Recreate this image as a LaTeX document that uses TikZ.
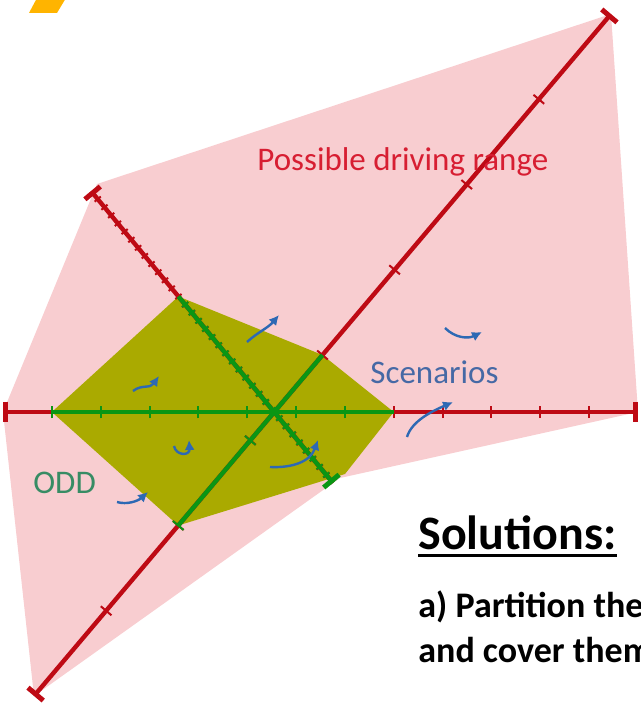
\documentclass[tikz,border=0pt]{standalone}
\usepackage{fontspec}
\setmainfont{Carlito}
\usetikzlibrary{arrows.meta,calc,decorations.markings}
\definecolor{rangepink}{RGB}{248,205,208}
\definecolor{oddfill}{RGB}{170,170,0}
\definecolor{axisred}{RGB}{190,10,20}
\definecolor{oddgreen}{RGB}{10,150,20}
\definecolor{labelred}{RGB}{215,30,50}
\definecolor{scenblue}{RGB}{70,105,165}
\definecolor{oddtext}{RGB}{55,140,100}
\definecolor{arrowblue}{RGB}{45,105,180}
\definecolor{logoorange}{RGB}{255,180,0}
\begin{document}
\begin{tikzpicture}[
  x=0.5pt, y=-0.5pt,
  axis/.style={draw=axisred, line width=2.2pt},
  oddaxis/.style={draw=oddgreen, line width=2.2pt},
  ticks/.style n args={5}{postaction={decorate, decoration={markings,
    mark=between positions #1 and #2 step #3 with {\draw[-, #5, line width=1pt] (0,-#4) -- (0,#4);}}}},
  bars/.style={{Bar[width=10pt,line width=2.5pt]}-{Bar[width=10pt,line width=2.5pt]}},
  barstart/.style={{Bar[width=10pt,line width=2.5pt]}-},
  barend/.style={-{Bar[width=10pt,line width=2.5pt]}},
  label/.style={anchor=base west, inner sep=0pt, font=\fontsize{16.5}{20}\selectfont},
  solution/.style={anchor=base west, inner sep=0pt, font=\bfseries\fontsize{18}{22}\selectfont},
  scen/.style={draw=arrowblue, line width=1.2pt, -{Latex[length=5pt,width=5pt]}}
]
\useasboundingbox (0,0) rectangle (641,706);
\clip (0,0) rectangle (641,706);
% axis end points
\coordinate (h0) at (3,412);
\coordinate (h1) at (638,412);
\coordinate (d0) at (34,696);
\coordinate (d1) at (611,14);
\coordinate (a0) at (91,191);
\coordinate (a1) at (333,483);
\coordinate (hl) at ($(h0)!1/13!(h1)$);
\coordinate (hr) at ($(h0)!8/13!(h1)$);
\coordinate (dl) at ($(d0)!2/8!(d1)$);
\coordinate (du) at ($(d0)!4/8!(d1)$);
\coordinate (ag) at ($(a0)!13/36!(a1)$);
\coordinate (odd low) at (345,474);
% logo corner
\fill[logoorange] (37,-2) -- (66,-2) -- (57,13) -- (29,13) -- cycle;
% driving range and ODD
\fill[rangepink] (97,184) -- (d1) -- (h1) -- (340,478) -- (d0) -- (h0) -- cycle;
\fill[oddfill] (ag) -- (du) -- (hr) -- (odd low) -- (dl) -- (hl) -- cycle;
% axes
\draw[axis, bars, ticks={0.0769}{0.95}{0.0769}{3pt}{axisred}] (h0) -- (h1);
\draw[axis, bars, ticks={0.125}{0.9}{0.125}{3.5pt}{axisred}] (d0) -- (d1);
\draw[axis, barstart, ticks={0.0278}{0.98}{0.0278}{2pt}{axisred}] (a0) -- (a1);
\draw[oddaxis, ticks={0}{0.9}{0.142857}{3pt}{oddgreen}] (hl) -- (hr);
\draw[oddaxis, ticks={0}{0.6}{0.5}{3.5pt}{oddgreen}] (dl) -- (du);
\draw[oddaxis, barend, ticks={0.0435}{0.98}{0.0435}{2pt}{oddgreen}] (ag) -- (a1);
% labels
\node[label, text=labelred] (range) at (257,170) {Possible driving range};
\node[label, text=scenblue] (scenarios) at (370,383) {Scenarios};
\node[label, text=oddtext] (odd) at (33,493) {ODD};
\node[anchor=base west, inner sep=0pt, font=\bfseries\fontsize{24}{29}\selectfont] (sol) at (418,549) {Solutions:};
\draw[line width=1.5pt] ([yshift=-3pt]sol.base west) -- ([yshift=-3pt]sol.base east);
\node[solution] (sol a) at (418,617) {a) Partition the};
\node[solution] (sol b) at (418,662) {and cover them};
% scenario arrows
\draw[scen] (133,391) .. controls (142,384) and (150,389) .. (159,376);
\draw[scen] (247,342) .. controls (258,332) and (268,328) .. (279,315);
\draw[scen] (445,328) .. controls (455,338) and (468,339) .. (482,332);
\draw[scen] (407,437) .. controls (412,420) and (435,410) .. (453,402);
\draw[scen] (174,446) .. controls (176,456) and (190,456) .. (189,440);
\draw[scen] (270,467) .. controls (292,468) and (310,462) .. (318,440);
\draw[scen] (117,502) .. controls (127,505) and (138,501) .. (148,492);
\end{tikzpicture}
\end{document}
